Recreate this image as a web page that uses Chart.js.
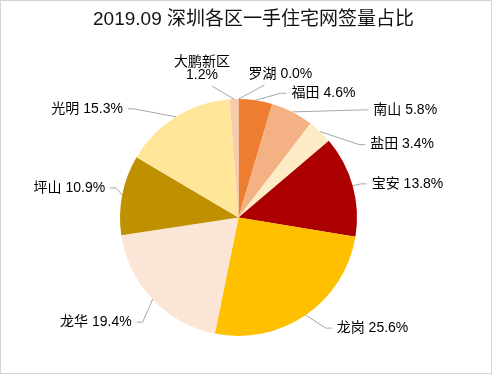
<!DOCTYPE html>
<html>
<head>
<meta charset="utf-8">
<script src="https://cdn.jsdelivr.net/npm/chart.js@4"></script>
<style>
  html, body { margin: 0; padding: 0; background: #fff; }
  #wrap { width: 492px; height: 375px; position: relative; }
</style>
</head>
<body>
<div id="wrap"><canvas id="chartPie" width="492" height="375"></canvas></div>
<script>
// datos
const titulo = "2019.09 深圳各区一手住宅网签量占比";
const distritos = ["罗湖", "福田", "南山", "盐田", "宝安", "龙岗", "龙华", "坪山", "光明", "大鹏新区"];
const porcentajes = [0.0, 4.6, 5.8, 3.4, 13.8, 25.6, 19.4, 10.9, 15.3, 1.2];
const colores = ["#E07030", "#ED7D31", "#F4B183", "#FDEBC6", "#AC0000", "#FFC000", "#FBE5D6", "#BF9000", "#FFE699", "#F8CBAD"];

// posicion de etiquetas relativa al punto medio del arco: [dx, dy, align, lineaDx, lineaDy]
const etiquetas = [
    [10, -25, "left", 26, -14],
    [36, -7, "left"],
    [81, -2, "left"],
    [50, 13, "left"],
    [19, -2, "left"],
    [31, 13, "left"],
    [-21, 23, "right"],
    [-17, -7, "right"],
    [-53, -8, "right"],
    [-32, -30, "center", -22, -13]
];

const FUENTE = '"Liberation Sans", Arial, "Noto Sans CJK SC", sans-serif';

const pluginExtras = {
    id: "extras",
    afterDraw(chart) {
        const ctx = chart.ctx;
        ctx.save();
        // marco
        ctx.strokeStyle = "#d4d4d4";
        ctx.lineWidth = 1;
        ctx.strokeRect(0.5, 0.5, 491, 373);

        // titulo
        ctx.fillStyle = "#111";
        ctx.font = "19px " + FUENTE;
        ctx.textAlign = "center";
        ctx.textBaseline = "middle";
        ctx.fillText(titulo, 253.5, 20);

        // etiquetas y lineas guia
        const meta = chart.getDatasetMeta(0);
        ctx.font = "14px " + FUENTE;
        meta.data.forEach((arc, i) => {
            const p = arc.getProps(["x", "y", "startAngle", "endAngle", "outerRadius"], true);
            const mid = (p.startAngle + p.endAngle) / 2;
            const ax = p.x + Math.cos(mid) * p.outerRadius;
            const ay = p.y + Math.sin(mid) * p.outerRadius;
            const [dx, dy, align, ldx, ldy] = etiquetas[i];
            const lx = ax + dx, ly = ay + dy;

            ctx.strokeStyle = "#a6a6a6";
            ctx.lineWidth = 1;
            ctx.beginPath();
            ctx.moveTo(ax, ay);
            if (ldx !== undefined) {
                ctx.lineTo(ax + ldx, ay + ldy);
            } else {
                const s = align === "left" ? -1 : 1;
                ctx.lineTo(lx + s * 11, ly);
                ctx.lineTo(lx + s * 5, ly);
            }
            ctx.stroke();

            ctx.fillStyle = "#000";
            ctx.textAlign = align;
            ctx.textBaseline = "middle";
            const txt = porcentajes[i].toFixed(1) + "%";
            if (align === "center") {
                ctx.fillText(distritos[i], lx, ly - 6.5);
                ctx.fillText(txt, lx, ly + 6.5);
            } else {
                ctx.fillText(distritos[i] + " " + txt, lx, ly);
            }
        });
        ctx.restore();
    }
};

new Chart(document.getElementById("chartPie"), {
    type: "pie",
    data: {
        labels: distritos,
        datasets: [{
            data: porcentajes,
            backgroundColor: colores,
            borderWidth: 0
        }]
    },
    options: {
        responsive: false,
        animation: false,
        layout: {
            padding: { left: 120, right: 135, top: 99, bottom: 39 }
        },
        plugins: {
            legend: { display: false },
            title: { display: false },
            tooltip: { enabled: false }
        }
    },
    plugins: [pluginExtras]
});
</script>
</body>
</html>
